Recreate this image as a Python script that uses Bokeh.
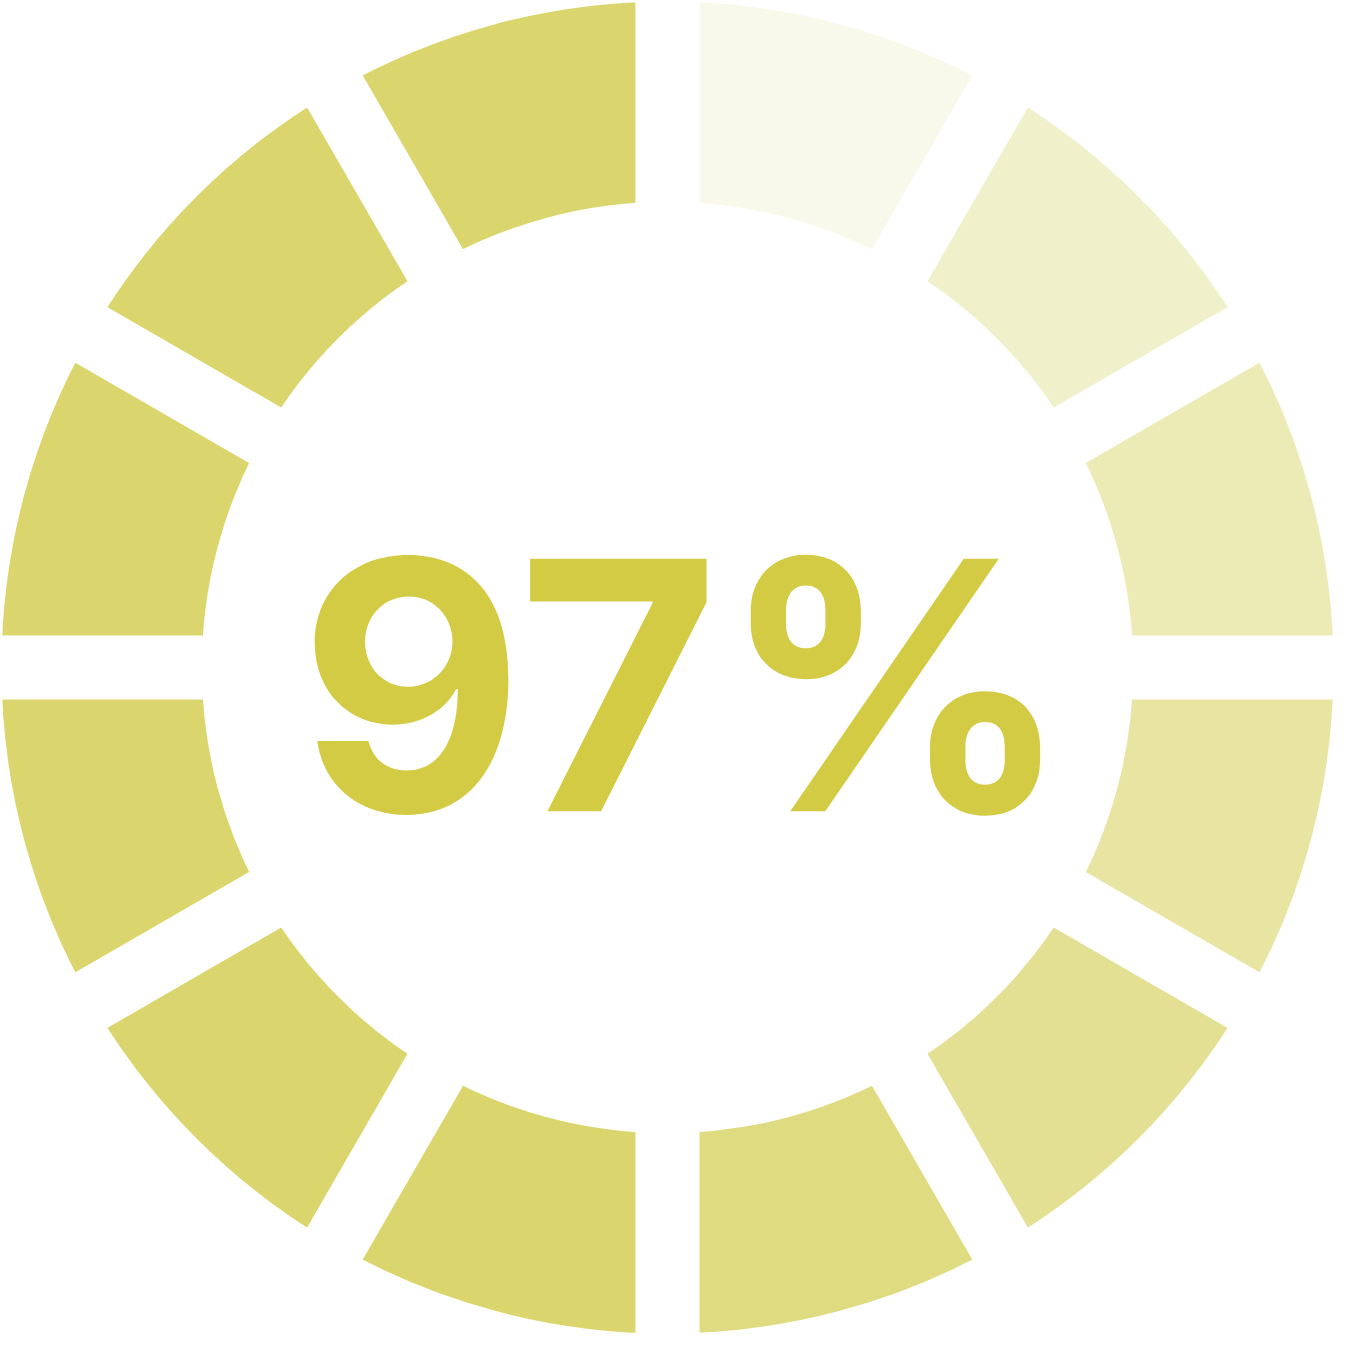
import math
from bokeh.plotting import figure
from bokeh.models import ColumnDataSource
from bokeh.core.properties import value as bvalue
from bokeh.embed import file_html
from bokeh.resources import INLINE

# ---- data ----
percent = 97
segment_order = list(range(12))  # clockwise from 12 o'clock
segment_colors = ["#F8F9EA", "#F0F0CA", "#EDEBB5", "#E8E4A2", "#E4E093", "#DFDB80",
                  "#DAD66D", "#DAD66D", "#DAD66D", "#DAD66D", "#DAD66D", "#DAD66D"]
text_color = "#D4CB45"

R_OUT = 675
R_IN = 472
SIZE = 1334
HALF = R_OUT + 1
scale = SIZE / (2 * HALF)

n = len(segment_order)
step = 2 * math.pi / n
starts = [math.pi / 2 - step * (i + 1) for i in segment_order]
ends = [math.pi / 2 - step * i for i in segment_order]

src = ColumnDataSource(dict(x=[0] * n, y=[0] * n, start=starts, end=ends, color=segment_colors))

p = figure(width=SIZE, height=SIZE, x_range=(-HALF, HALF), y_range=(-HALF, HALF),
           output_backend="svg", toolbar_location=None, min_border=0)
p.axis.visible = False
p.grid.visible = False
p.outline_line_color = None
p.background_fill_color = "white"
p.border_fill_color = "white"

p.annular_wedge(x="x", y="y", inner_radius=R_IN, outer_radius=R_OUT,
                start_angle="start", end_angle="end", fill_color="color",
                line_color=None, source=src)

# gaps between segments (constant width)
gap_angles = [step * i for i in range(n)]
p.ray(x=[0] * n, y=[0] * n, length=0, angle=gap_angles, line_color="white",
      line_width=65 * scale)

p.text(x=[18], y=[-18], text=[f"{percent}%"], text_font=bvalue("Inter"),
       text_font_style="bold", text_font_size=f"{int(352 * scale)}px",
       text_color=text_color, text_align="center", text_baseline="alphabetic")

open("out.html", "w").write(file_html(p, INLINE))
